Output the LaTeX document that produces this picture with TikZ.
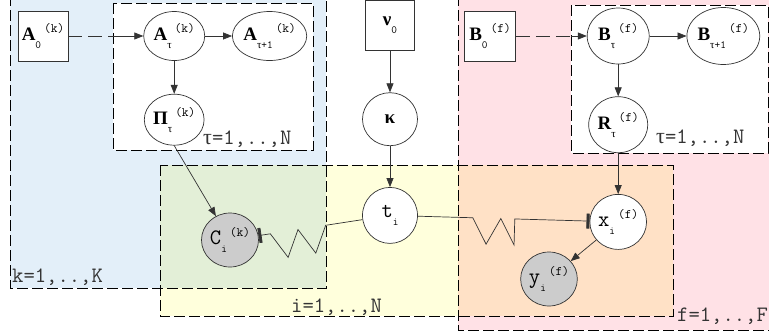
\documentclass[tikz,border=0pt]{standalone}
\usepackage{fontspec}
\newfontfamily\grkfont{Liberation Serif}
\usepackage{tikz}
\usetikzlibrary{arrows.meta,positioning,shapes.geometric,decorations}
\definecolor{kplate}{HTML}{E3EFF9}
\definecolor{fplate}{HTML}{FFE1E6}
\definecolor{iplate}{HTML}{FFFFDC}
\definecolor{kiplate}{HTML}{E3EFD7}
\definecolor{fiplate}{HTML}{FFE1C6}
\definecolor{observed}{HTML}{CCCCCC}
\definecolor{ink}{HTML}{333333}

% one-sided zigzag for the soft links
\pgfdeclaredecoration{vees}{down}{
  \state{down}[width=+.5\pgfdecorationsegmentlength, next state=up]
  {\pgfpathlineto{\pgfqpoint{.5\pgfdecorationsegmentlength}{-\pgfdecorationsegmentamplitude}}}
  \state{up}[width=+.5\pgfdecorationsegmentlength, next state=down]
  {\pgfpathlineto{\pgfqpoint{.5\pgfdecorationsegmentlength}{0pt}}}
  \state{final}{\pgfpathlineto{\pgfpointdecoratedpathlast}}
}

\newcommand{\subsz}{\fontsize{11}{11}\selectfont}
\newcommand{\supsz}{\fontsize{13}{13}\selectfont}
\newcommand{\gr}[1]{{\grkfont #1}}
\newcommand{\bl}[1]{{\grkfont\bfseries\fontsize{19}{19}\selectfont #1}}
\newcommand{\rv}[3]{#1\raisebox{-8pt}{\subsz #2}\kern3pt\raisebox{8pt}{\supsz #3}}
\newcommand{\rvsub}[2]{#1\raisebox{-8pt}{\subsz #2}}

\tikzset{
  var/.style    = {ellipse, draw=ink, fill=white, line width=0.7pt, inner sep=0pt,
                   minimum width=55pt, minimum height=55pt,
                   font=\ttfamily\fontsize{22}{22}\selectfont},
  obs/.style    = {var, fill=observed},
  hyper/.style  = {rectangle, draw=ink, fill=white, line width=0.7pt, inner sep=0pt,
                   minimum width=50pt, minimum height=50pt,
                   font=\ttfamily\fontsize{18}{18}\selectfont},
  plate/.style  = {draw=black, line width=0.7pt, dash pattern=on 11pt off 4pt},
  plabel/.style = {font=\ttfamily\fontsize{22}{22}\selectfont, text=black!80,
                   inner sep=0pt, anchor=base west},
  arr/.style    = {-{Triangle[length=9pt,width=7pt]}, line width=0.7pt, draw=ink},
  darr/.style   = {line width=0.7pt, draw=ink, dash pattern=on 14pt off 6pt},
  soft/.style   = {line width=0.7pt, draw=ink, decorate,
                   decoration={vees, segment length=28pt, amplitude=26pt}}
}

\begin{document}
\begin{tikzpicture}[x=1pt, y=-1pt, node distance=30pt]
  \useasboundingbox (0,0) rectangle (769,333);
  % plates
  \fill[kplate]  (10,-5) rectangle (326,288);
  \fill[fplate]  (458,-5) rectangle (780,330);
  \fill[iplate]  (160,165) rectangle (673,316);
  \fill[kiplate] (160,165) rectangle (326,288);
  \fill[fiplate] (458,165) rectangle (673,316);
  \draw[plate] (10,-5) rectangle (326,288);
  \draw[plate] (458,-5) rectangle (780,330);
  \draw[plate] (160,165) rectangle (673,316);
  \coordinate (ktau) at (113,3);
  \coordinate (ftau) at (571,5);
  \draw[plate, fill=white] (ktau) rectangle (313,150);
  \draw[plate, fill=white] (ftau) rectangle (768,153);
  \node[plabel] (klab)  at (12,282)  {k=1,..,K};
  \node[plabel] (ktlab) at (203,144) {\gr{τ}=1,..,N};
  \node[plabel] (ilab)  at (291,312) {i=1,..,N};
  \node[plabel] (ftlab) at (656,143) {\gr{τ}=1,..,N};
  \node[plabel] (flab)  at (677,321) {f=1,..,F};

  % k side
  \node[hyper] (A0) at (43,36) {\rv{\bl{A}}{0}{(k)}};
  \node[var, minimum width=61pt, minimum height=49pt, right=75pt of A0] (Atau)
    {\rv{\bl{A}}{\gr{τ}}{(k)}};
  \node[var, minimum width=71pt, minimum height=49pt, right=27pt of Atau] (Anext)
    {\rv{\bl{A}}{\gr{τ}+1}{(k)}};
  \node[var, minimum width=59pt, minimum height=51pt, below=33pt of Atau] (Pi)
    {\rv{\bl{Π}}{\gr{τ}}{(k)}};
  \node[obs, minimum width=57pt, minimum height=54pt] (C) at (230,240)
    {\rv{C}{i}{(k)}};

  % shared
  \node[hyper, minimum width=49pt] (nu0) at (390,25) {\rvsub{\bl{ν}}{0}};
  \node[var, minimum height=53pt, below=42pt of nu0] (kappa) {\bl{κ}};
  \node[var, minimum height=56pt, below=41pt of kappa] (t) {\rvsub{t}{i}};

  % f side
  \node[hyper, minimum width=51pt] (B0) at (490,36) {\rv{\bl{B}}{0}{(f)}};
  \node[var, minimum width=62pt, minimum height=56pt, right=71pt of B0] (Btau)
    {\rv{\bl{B}}{\gr{τ}}{(f)}};
  \node[var, minimum width=72pt, minimum height=57pt, right=37pt of Btau] (Bnext)
    {\rv{\bl{B}}{\gr{τ}+1}{(f)}};
  \node[var, minimum width=59pt, minimum height=56pt, below=32pt of Btau] (R)
    {\rv{\bl{R}}{\gr{τ}}{(f)}};
  \node[var, below=41pt of R] (x) {\rv{x}{i}{(f)}};
  \node[obs, minimum width=56pt, minimum height=54pt] (y) at (549,279)
    {\rv{y}{i}{(f)}};

  % edges
  \draw[darr] (A0) -- (A0 -| ktau);
  \draw[arr]  (A0 -| ktau) -- (Atau);
  \draw[arr] (Atau) -- (Anext);
  \draw[arr] (Atau) -- (Pi);
  \draw[arr] (Pi.south) -- (C);
  \draw[arr] (nu0) -- (kappa);
  \draw[arr] (kappa) -- (t);
  \draw[darr] (B0) -- (B0 -| ftau);
  \draw[arr]  (B0 -| ftau) -- (Btau);
  \draw[arr] (Btau) -- (Bnext);
  \draw[arr] (Btau) -- (R);
  \draw[arr] (R) -- (x);
  \draw[arr] (x) -- (y);
  \draw[soft, decoration={pre length=12pt, post length=36pt},
        {Rectangle[length=3pt, width=15pt]}-] (C) -- (t);
  \draw[soft, decoration={pre length=55pt, post length=62pt},
        -{Rectangle[length=3pt, width=15pt]}] (t) -- (x);
\end{tikzpicture}
\end{document}
